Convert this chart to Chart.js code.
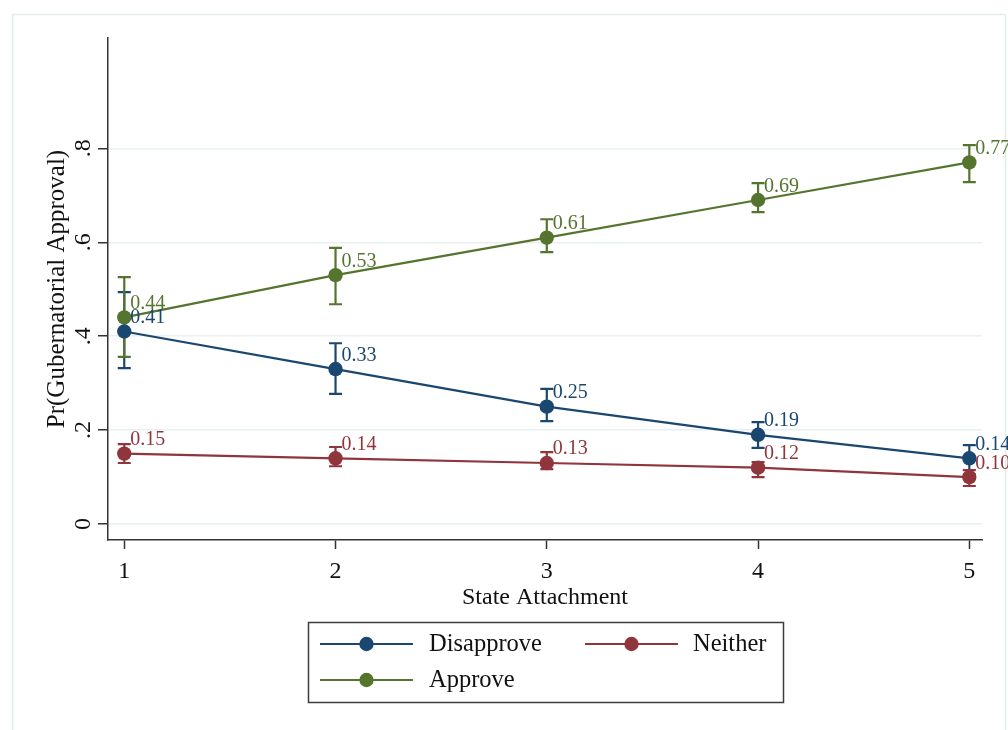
<!DOCTYPE html>
<html>
<head>
<meta charset="utf-8">
<title>Pr(Gubernatorial Approval) by State Attachment</title>
<script src="https://cdn.jsdelivr.net/npm/chart.js@4.4.0/dist/chart.umd.min.js"></script>
<style>
  html, body { margin: 0; padding: 0; background: #ffffff; }
  #wrap { width: 1008px; height: 730px; position: relative; }
  canvas { display: block; }
</style>
</head>
<body>
<div id="wrap"><canvas id="chart" width="1008" height="730"></canvas></div>
<script>
// Predicted probabilities with 95% confidence intervals
const attachment = [1, 2, 3, 4, 5];

const disapprove   = [0.41, 0.33, 0.25, 0.19, 0.14];
const disapproveLo = [0.332, 0.277, 0.219, 0.162, 0.106];
const disapproveHi = [0.494, 0.385, 0.288, 0.217, 0.168];

const neither   = [0.15, 0.14, 0.13, 0.12, 0.10];
const neitherLo = [0.130, 0.123, 0.117, 0.100, 0.081];
const neitherHi = [0.170, 0.164, 0.153, 0.132, 0.115];

const approve   = [0.44, 0.53, 0.61, 0.69, 0.77];
const approveLo = [0.356, 0.468, 0.579, 0.664, 0.728];
const approveHi = [0.526, 0.588, 0.649, 0.726, 0.807];

const yTicks = [0, 0.2, 0.4, 0.6, 0.8];
const yTickLabels = ['0', '.2', '.4', '.6', '.8'];
const xTicks = [1, 2, 3, 4, 5];

const seriesNames = ['Disapprove', 'Neither', 'Approve'];
const seriesColors = ['#1a476f', '#90353b', '#55752f'];

const SERIF = '"Liberation Serif", "Times New Roman", serif';
const INK = '#111111';
const AXIS = '#333333';
const MARKER_R = 7.2;

function makeDataset(idx, values, lo, hi, order) {
  return {
    label: seriesNames[idx],
    data: attachment.map((x, i) => ({ x: x, y: values[i] })),
    ciLo: lo,
    ciHi: hi,
    borderColor: seriesColors[idx],
    backgroundColor: seriesColors[idx],
    pointBackgroundColor: seriesColors[idx],
    pointBorderColor: seriesColors[idx],
    pointBorderWidth: 0,
    pointRadius: MARKER_R,
    borderWidth: 2.2,
    tension: 0,
    fill: false,
    clip: false,
    order: order
  };
}

// Outer frame of the graph region
const framePlugin = {
  id: 'frame',
  beforeDraw(chart) {
    const ctx = chart.ctx;
    ctx.save();
    ctx.fillStyle = '#ffffff';
    ctx.fillRect(0, 0, chart.width, chart.height);
    ctx.strokeStyle = '#e4ebeb';
    ctx.lineWidth = 1.5;
    ctx.strokeRect(12.5, 14.5, 993, 740);
    ctx.restore();
  }
};

// Capped confidence-interval spikes, drawn beneath the lines
const ciPlugin = {
  id: 'ciCaps',
  beforeDatasetsDraw(chart) {
    const ctx = chart.ctx;
    const xs = chart.scales.x, ys = chart.scales.y;
    const cap = 6.5;
    ctx.save();
    chart.data.datasets.forEach((ds) => {
      ctx.strokeStyle = ds.borderColor;
      ctx.lineWidth = 2.2;
      ds.data.forEach((pt, i) => {
        const px = xs.getPixelForValue(pt.x);
        const yLo = ys.getPixelForValue(ds.ciLo[i]);
        const yHi = ys.getPixelForValue(ds.ciHi[i]);
        ctx.beginPath();
        ctx.moveTo(px, yLo); ctx.lineTo(px, yHi);
        ctx.moveTo(px - cap, yLo); ctx.lineTo(px + cap, yLo);
        ctx.moveTo(px - cap, yHi); ctx.lineTo(px + cap, yHi);
        ctx.stroke();
      });
    });
    ctx.restore();
  }
};

// Value labels, axis texts and the legend
const textPlugin = {
  id: 'texts',
  afterDraw(chart) {
    const ctx = chart.ctx;
    const xs = chart.scales.x, ys = chart.scales.y;
    const area = chart.chartArea;
    ctx.save();

    // point value labels
    ctx.font = '20px ' + SERIF;
    ctx.textAlign = 'left';
    ctx.textBaseline = 'alphabetic';
    chart.data.datasets.forEach((ds) => {
      ctx.fillStyle = ds.borderColor;
      ds.data.forEach((pt) => {
        const px = xs.getPixelForValue(pt.x);
        const py = ys.getPixelForValue(pt.y);
        ctx.fillText(pt.y.toFixed(2), px + 6, py - 8.5);
      });
    });

    // rotated y tick labels
    ctx.fillStyle = INK;
    ctx.font = '24px ' + SERIF;
    ctx.textAlign = 'center';
    yTicks.forEach((v, i) => {
      const py = ys.getPixelForValue(v);
      ctx.save();
      ctx.translate(90, py);
      ctx.rotate(-Math.PI / 2);
      ctx.fillText(yTickLabels[i], 0, 0);
      ctx.restore();
    });

    // y axis title
    ctx.save();
    ctx.font = '25px ' + SERIF;
    ctx.translate(64, (area.top + area.bottom) / 2);
    ctx.rotate(-Math.PI / 2);
    ctx.fillText('Pr(Gubernatorial Approval)', 0, 0);
    ctx.restore();

    // x axis title
    ctx.font = '24px ' + SERIF;
    ctx.fillText('State Attachment', (area.left + area.right) / 2, 604);

    // legend
    const box = { x: 308.5, y: 622.5, w: 475, h: 80 };
    ctx.fillStyle = '#ffffff';
    ctx.fillRect(box.x, box.y, box.w, box.h);
    ctx.strokeStyle = '#3c3c3c';
    ctx.lineWidth = 1.5;
    ctx.strokeRect(box.x, box.y, box.w, box.h);

    const entries = [
      { idx: 0, x0: 320, x1: 413, tx: 429, y: 644 },
      { idx: 1, x0: 585, x1: 678, tx: 693, y: 644 },
      { idx: 2, x0: 320, x1: 413, tx: 429, y: 680 }
    ];
    entries.forEach((e) => {
      const col = seriesColors[e.idx];
      ctx.strokeStyle = col;
      ctx.lineWidth = 2.2;
      ctx.beginPath();
      ctx.moveTo(e.x0, e.y); ctx.lineTo(e.x1, e.y);
      ctx.stroke();
      ctx.fillStyle = col;
      ctx.beginPath();
      ctx.arc((e.x0 + e.x1) / 2, e.y, MARKER_R, 0, Math.PI * 2);
      ctx.fill();
      ctx.fillStyle = INK;
      ctx.font = '24.5px ' + SERIF;
      ctx.textAlign = 'left';
      ctx.textBaseline = 'middle';
      ctx.fillText(seriesNames[e.idx], e.tx, e.y + 1);
    });

    ctx.restore();
  }
};

new Chart(document.getElementById('chart'), {
  type: 'line',
  data: {
    datasets: [
      makeDataset(0, disapprove, disapproveLo, disapproveHi, 3),
      makeDataset(1, neither, neitherLo, neitherHi, 2),
      makeDataset(2, approve, approveLo, approveHi, 1)
    ]
  },
  options: {
    responsive: false,
    animation: false,
    devicePixelRatio: 1,
    layout: { padding: { top: 38, right: 26, left: 0, bottom: 0 } },
    plugins: {
      legend: { display: false },
      tooltip: { enabled: false }
    },
    scales: {
      x: {
        type: 'linear',
        min: 0.923,
        max: 5.06,
        afterBuildTicks: (s) => { s.ticks = xTicks.map((v) => ({ value: v })); },
        afterFit: (s) => { s.height = 190; },
        ticks: {
          color: INK,
          font: { family: SERIF, size: 24 },
          padding: 8,
          maxRotation: 0,
          callback: (v) => String(v)
        },
        grid: {
          drawOnChartArea: false,
          drawTicks: true,
          tickLength: 9,
          tickColor: AXIS,
          tickWidth: 1.5
        },
        border: { color: AXIS, width: 1.5 }
      },
      y: {
        type: 'linear',
        min: -0.034,
        max: 1.035,
        afterBuildTicks: (s) => { s.ticks = yTicks.map((v) => ({ value: v })); },
        afterFit: (s) => { s.width = 108; },
        ticks: { display: false },
        grid: {
          color: '#e8f0f1',
          lineWidth: 1.5,
          drawTicks: true,
          tickLength: 10,
          tickColor: AXIS,
          tickWidth: 1.5
        },
        border: { color: AXIS, width: 1.5 }
      }
    }
  },
  plugins: [framePlugin, ciPlugin, textPlugin]
});
</script>
</body>
</html>
